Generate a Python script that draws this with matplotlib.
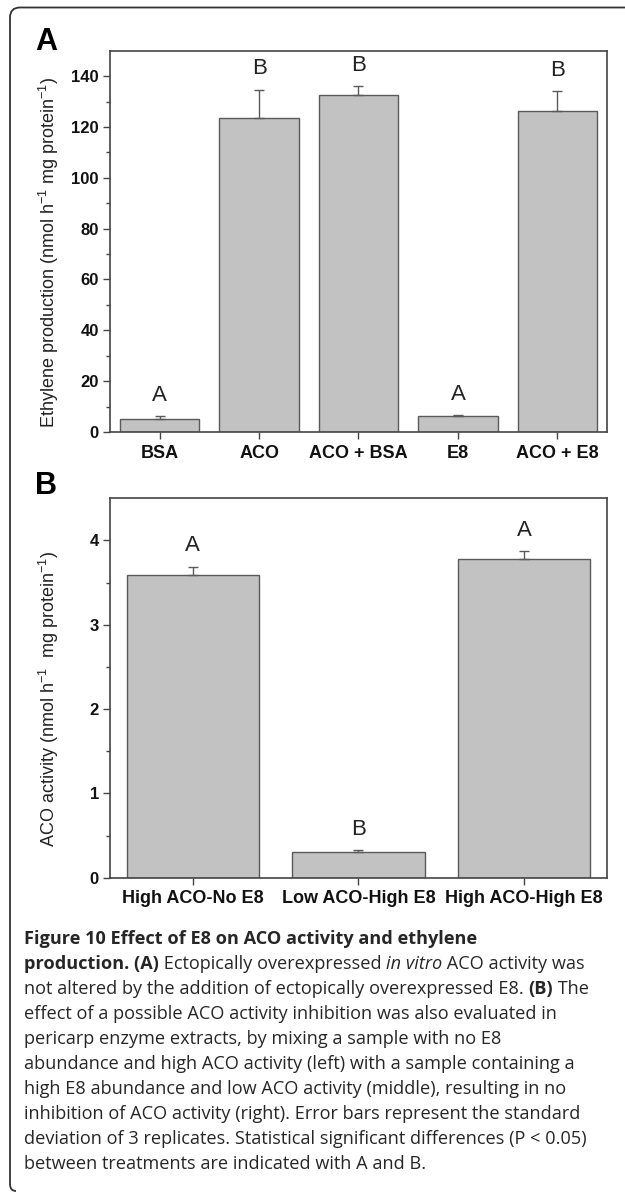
import numpy as np
import matplotlib
matplotlib.use('Agg')
import matplotlib.pyplot as plt
from matplotlib.path import Path
from matplotlib.patches import PathPatch

plt.rcParams['font.family'] = ['Liberation Sans', 'DejaVu Sans']
plt.rcParams['mathtext.fontset'] = 'custom'
plt.rcParams['mathtext.rm'] = 'Liberation Sans'
plt.rcParams['mathtext.it'] = 'Liberation Sans:italic'
plt.rcParams['mathtext.bf'] = 'Liberation Sans:bold'

# panel A - ethylene production
a_labels = ['BSA', 'ACO', 'ACO + BSA', 'E8', 'ACO + E8']
a_means = [5.3, 123.7, 132.6, 6.4, 126.2]
a_sd = [0.9, 11.0, 3.5, 0.3, 7.8]
a_groups = ['A', 'B', 'B', 'A', 'B']
a_yticks = [0, 20, 40, 60, 80, 100, 120, 140]

# panel B - ACO activity
b_labels = ['High ACO-No E8', 'Low ACO-High E8', 'High ACO-High E8']
b_means = [3.59, 0.30, 3.78]
b_sd = [0.10, 0.03, 0.09]
b_groups = ['A', 'B', 'A']
b_yticks = [0, 1, 2, 3, 4]

caption = [
    [('Figure 10 Effect of E8 on ACO activity and ethylene', 'bold', 'normal')],
    [('production. (A)', 'bold', 'normal'), (' Ectopically overexpressed ', 'normal', 'normal'),
     ('in vitro', 'normal', 'italic'), (' ACO activity was', 'normal', 'normal')],
    [('not altered by the addition of ectopically overexpressed E8. ', 'normal', 'normal'),
     ('(B)', 'bold', 'normal'), (' The', 'normal', 'normal')],
    [('effect of a possible ACO activity inhibition was also evaluated in', 'normal', 'normal')],
    [('pericarp enzyme extracts, by mixing a sample with no E8', 'normal', 'normal')],
    [('abundance and high ACO activity (left) with a sample containing a', 'normal', 'normal')],
    [('high E8 abundance and low ACO activity (middle), resulting in no', 'normal', 'normal')],
    [('inhibition of ACO activity (right). Error bars represent the standard', 'normal', 'normal')],
    [('deviation of 3 replicates. Statistical significant differences (P < 0.05)', 'normal', 'normal')],
    [('between treatments are indicated with A and B.', 'normal', 'normal')],
]

W, H = 625, 1193
fig = plt.figure(figsize=(W / 100, H / 100), dpi=100)


def fx(px):
    return px / W


def fy(py):
    return 1 - py / H


def panel(ax, labels, means, sd, groups, ymax, yticks, minor_step, ylabel):
    x = np.arange(len(labels))
    ax.bar(x, means, width=0.8, color='#c2c2c2', edgecolor='#5a5a5a', linewidth=1.0, zorder=2)
    ax.errorbar(x, means, yerr=[np.zeros(len(sd)), sd], fmt='none', ecolor='#5a5a5a',
                elinewidth=1.0, capsize=3.5, capthick=1.0, zorder=3)
    for xi, m, s, g in zip(x, means, sd, groups):
        ax.annotate(g, (xi, m + s), xytext=(0, 11), textcoords='offset points',
                    ha='center', va='baseline', fontsize=16, color='#222222')
    ax.set_xlim(-0.5, len(labels) - 0.5)
    ax.set_ylim(0, ymax)
    ax.set_xticks(x)
    ax.set_xticklabels(labels, fontweight='bold', fontsize=13, color='#111111')
    ax.set_yticks(yticks)
    ax.set_yticklabels([str(t) for t in yticks], fontweight='bold', fontsize=12, color='#111111')
    ax.set_yticks(np.arange(minor_step, ymax, minor_step * 2), minor=True)
    ax.tick_params(direction='out', length=5, width=1, color='#444444', pad=3)
    ax.tick_params(axis='x', pad=4)
    ax.tick_params(which='minor', direction='out', length=3, width=1, color='#444444')
    for sp in ax.spines.values():
        sp.set_color('#444444')
        sp.set_linewidth(1.2)
    ax.set_ylabel(ylabel, fontsize=13, color='#222222')
    ax.yaxis.set_label_coords(-0.098, 0.47)


axA = fig.add_axes([fx(110), fy(432), fx(607) - fx(110), (432 - 50.7) / H])
panel(axA, a_labels, a_means, a_sd, a_groups, 150, a_yticks, 10,
      'Ethylene production (nmol h$^{-1}$ mg protein$^{-1}$)')

axB = fig.add_axes([fx(110), fy(877.7), fx(607) - fx(110), (877.7 - 498.3) / H])
panel(axB, b_labels, b_means, b_sd, b_groups, 4.5, b_yticks, 0.5,
      'ACO activity (nmol h$^{-1}$  mg protein$^{-1}$)')

fig.text(fx(35), fy(50), 'A', fontsize=22, fontweight='bold', va='baseline')
fig.text(fx(35), fy(494), 'B', fontsize=22, fontweight='bold', va='baseline')

# frame: top line and left line with rounded corners
r = 10
verts = [(W + 2, 7.5), (10 + r, 7.5), (10, 7.5), (10, 7.5 + r),
         (10, 1184), (10, 1191), (16, 1191)]
codes = [Path.MOVETO, Path.LINETO, Path.CURVE3, Path.CURVE3,
         Path.LINETO, Path.CURVE3, Path.CURVE3]
frame = Path([(fx(a), fy(b)) for a, b in verts], codes)
fig.add_artist(PathPatch(frame, transform=fig.transFigure, fill=False,
                         edgecolor='#333333', linewidth=1.3))

# caption, drawn piece by piece so weights can change within a line
renderer = fig.canvas.get_renderer()
cap_font = ['Open Sans', 'DejaVu Sans']
cap_size = 13.1


def seg_width(s, weight, style):
    t1 = fig.text(0, 0, 'x' + s + 'x', family=cap_font, fontsize=cap_size, fontweight=weight, fontstyle=style)
    t2 = fig.text(0, 0, 'xx', family=cap_font, fontsize=cap_size, fontweight=weight, fontstyle=style)
    w = t1.get_window_extent(renderer).width - t2.get_window_extent(renderer).width
    t1.remove()
    t2.remove()
    return w


y0 = 944
dy = 25.0
for i, line in enumerate(caption):
    xpos = 24
    for s, weight, style in line:
        fig.text(fx(xpos), fy(y0 + i * dy), s, family=cap_font, fontsize=cap_size,
                 fontweight=weight, fontstyle=style, va='baseline', color='#262626')
        xpos += seg_width(s, weight, style)

fig.savefig('out.png', dpi=100)
